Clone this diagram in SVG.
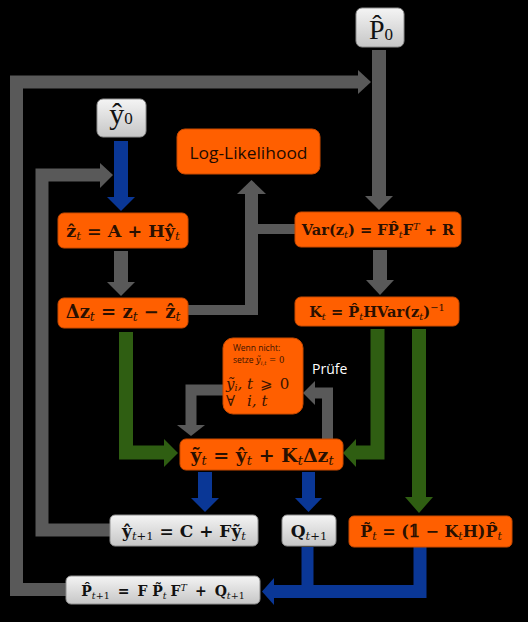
<svg xmlns="http://www.w3.org/2000/svg" width="528" height="622" viewBox="0 0 528 622">
<defs>
<linearGradient id="gg" x1="0" y1="0" x2="0" y2="1">
<stop offset="0" stop-color="#f4f4f4"/>
<stop offset="1" stop-color="#c6c6c6"/>
</linearGradient>
<style>
.ob{fill:#ff5f00;stroke:#c94a00;stroke-width:1}
.gb{fill:url(#gg);stroke:#8f8f8f;stroke-width:1}
.m{font-family:"DejaVu Serif","Liberation Serif",serif;font-weight:bold;fill:#2a1000;text-anchor:middle}
.mk{fill:#111}
.big{font-family:"Liberation Serif","DejaVu Serif",serif;font-weight:normal;fill:#111;text-anchor:middle}
.s{font-style:italic;font-weight:normal;font-size:68%}
.su{font-weight:normal;font-size:68%}
.cg{stroke:#595959;fill:none}
.hg{fill:#595959}
.cb{stroke:#0a3796;fill:none}
.hb{fill:#0a3796}
.cn{stroke:#2f5e12;fill:none}
.hn{fill:#2f5e12}
.sans{font-family:"Open Sans","Noto Sans","DejaVu Sans",sans-serif}
.w{font-family:"DejaVu Serif",serif;fill:#3a1400}
</style>
</defs>
<rect width="528" height="622" fill="#000"/>

<g id="connectors">
<path class="cg" stroke-width="13" d="M66,589.5 H16.5 V82 H359"/>
<polygon class="hg" points="358,70 371,82 358,94"/>
<path class="cg" stroke-width="14" d="M379,50 V197"/>
<polygon class="hg" points="365,196 379,210 393,196"/>
<path class="cg" stroke-width="13" d="M110,530 H42 V175 H101"/>
<polygon class="hg" points="100,163 113,175 100,188"/>
<path class="cg" stroke-width="14" d="M121,251 V283"/>
<polygon class="hg" points="107,282 121,296 135,282"/>
<path class="cg" stroke-width="10" d="M188,310 H251"/>
<path class="cg" stroke-width="13" d="M251.5,315 V194"/>
<polygon class="hg" points="237,194 251.5,180 266,194"/>
<path class="cg" stroke-width="10" d="M295,229 H251"/>
<path class="cg" stroke-width="14" d="M380,250 V281"/>
<polygon class="hg" points="366,280 380,295 394,280"/>
<path class="cg" stroke-width="11" d="M223,390 H191 V426"/>
<polygon class="hg" points="177,425 191,436 205,425"/>
<path class="cg" stroke-width="11" d="M327.5,439 V393 H314"/>
<polygon class="hg" points="315,381 303,393 315,405"/>
<path class="cn" stroke-width="14" d="M126,332 V452.5 H165"/>
<polygon class="hn" points="164,439 178,453 164,467"/>
<path class="cn" stroke-width="14" d="M377.5,329 V452.5 H355"/>
<polygon class="hn" points="356,439 343,453 356,467"/>
<path class="cn" stroke-width="14" d="M419,329 V498"/>
<polygon class="hn" points="405,497 419,513 433,497"/>
<path class="cb" stroke-width="14" d="M121,141 V198"/>
<polygon class="hb" points="107,197 121,211 135,197"/>
<path class="cb" stroke-width="14" d="M205,472 V499"/>
<polygon class="hb" points="191,498 205,512 219,498"/>
<path class="cb" stroke-width="13" d="M308.5,472 V499"/>
<polygon class="hb" points="295,498 308.5,512 322,498"/>
<path class="cb" stroke-width="12" d="M307.5,547 V591"/>
<path class="cb" stroke-width="13" d="M420,547 V591.5 H273"/>
<polygon class="hb" points="274,578 262,591.5 274,605"/>
</g>

<g id="P0">
<rect class="gb" x="356" y="8" width="48" height="39" rx="6"/>
<text class="big" x="381" y="39" font-size="28">P̂<tspan font-size="17" dy="1">0</tspan></text>
</g>
<g id="y0">
<rect class="gb" x="97" y="99" width="49" height="38" rx="6"/>
<text class="big" x="121" y="124" font-size="30">ŷ<tspan font-size="17">0</tspan></text>
</g>
<g id="loglik">
<rect class="ob" x="177" y="129" width="143" height="45" rx="8"/>
<text class="sans" x="248.5" y="159" font-size="17" fill="#1e0a00" text-anchor="middle" textLength="118" lengthAdjust="spacingAndGlyphs">Log-Likelihood</text>
</g>
<g id="zhat">
<rect class="ob" x="58" y="213" width="130" height="35" rx="6"/>
<text class="m" x="123" y="237" font-size="17.5">ẑ<tspan class="s" dy="3">t</tspan><tspan dy="-3"> = A + Hŷ</tspan><tspan class="s" dy="3">t</tspan></text>
</g>
<g id="dz">
<rect class="ob" x="58" y="298" width="130" height="30" rx="6"/>
<text class="m" x="123" y="318" font-size="18">Δz<tspan class="s" dy="3">t</tspan><tspan dy="-3"> = z</tspan><tspan class="s" dy="3">t</tspan><tspan dy="-3"> − ẑ</tspan><tspan class="s" dy="3">t</tspan></text>
</g>
<g id="var">
<rect class="ob" x="295" y="212" width="166" height="35" rx="6"/>
<text class="m" x="378" y="235" font-size="14.6">Var(z<tspan class="s" dy="3">t</tspan><tspan dy="-3">) = FP̂</tspan><tspan class="s" dy="3">t</tspan><tspan dy="-3">F</tspan><tspan class="s" dy="-5">T</tspan><tspan dy="5"> + R</tspan></text>
</g>
<g id="kalman">
<rect class="ob" x="295" y="297" width="164" height="29" rx="6"/>
<text class="m" x="377" y="317" font-size="14.6">K<tspan class="s" dy="3">t</tspan><tspan dy="-3"> = P̂</tspan><tspan class="s" dy="3">t</tspan><tspan dy="-3">HVar(z</tspan><tspan class="s" dy="3">t</tspan><tspan dy="-3">)</tspan><tspan class="su" dy="-6">−1</tspan></text>
</g>
<g id="check">
<rect class="ob" x="223" y="338" width="80" height="76" rx="10"/>
<text class="sans" x="233" y="351" font-size="8.5" fill="#3a1400">Wenn nicht:</text>
<text class="sans" x="233" y="363" font-size="8.5" fill="#3a1400">setze <tspan class="w" font-style="italic">ỹ</tspan><tspan class="w" font-style="italic" font-size="5.5" dy="2">i,t</tspan><tspan class="w" dy="-2"> = 0</tspan></text>
<text class="w" x="226" y="389" font-size="15" font-style="italic">ỹ<tspan font-size="9.5" dy="2">i</tspan><tspan dy="-2">, t</tspan><tspan font-style="normal" font-family="DejaVu Sans" dx="7">⩾</tspan><tspan font-style="normal" dx="7">0</tspan></text>
<text class="w" x="226" y="406" font-size="15">∀<tspan font-style="italic" dx="12">i, t</tspan></text>
</g>
<text class="sans" x="312" y="374" font-size="14" fill="#fff">Prüfe</text>
<g id="ytilde">
<rect class="ob" x="180" y="439" width="163" height="31" rx="6"/>
<text class="m" x="262" y="462" font-size="19">ỹ<tspan class="s" dy="3">t</tspan><tspan dy="-3"> = ŷ</tspan><tspan class="s" dy="3">t</tspan><tspan dy="-3"> + K</tspan><tspan class="s" dy="3">t</tspan><tspan dy="-3">Δz</tspan><tspan class="s" dy="3">t</tspan></text>
</g>
<g id="ynext">
<rect class="gb" x="110" y="515" width="148" height="31" rx="5"/>
<text class="m mk" x="184" y="537" font-size="17">ŷ<tspan class="s" dy="3">t</tspan><tspan class="su">+1</tspan><tspan dy="-3"> = C + Fỹ</tspan><tspan class="s" dy="3">t</tspan></text>
</g>
<g id="qnext">
<rect class="gb" x="282" y="515" width="54" height="31" rx="5"/>
<text class="m mk" x="309" y="537" font-size="17">Q<tspan class="s" dy="3">t</tspan><tspan class="su">+1</tspan></text>
</g>
<g id="ptilde">
<rect class="ob" x="349" y="516" width="163" height="31" rx="5"/>
<text class="m" x="431" y="537" font-size="16">P̃<tspan class="s" dy="3">t</tspan><tspan dy="-3"> = (𝟙 − K</tspan><tspan class="s" dy="3">t</tspan><tspan dy="-3">H)P̂</tspan><tspan class="s" dy="3">t</tspan></text>
</g>
<g id="pnext">
<rect class="gb" x="66" y="576" width="194" height="28" rx="5"/>
<text class="m mk" x="163" y="596" font-size="14">P̂<tspan class="s" dy="3">t</tspan><tspan class="su">+1</tspan><tspan dy="-3" dx="8">=</tspan><tspan dx="8">F P̃</tspan><tspan class="s" dy="3">t</tspan><tspan dy="-3" dx="4">F</tspan><tspan class="s" dy="-5">T</tspan><tspan dy="5" dx="8">+</tspan><tspan dx="8">Q</tspan><tspan class="s" dy="3">t</tspan><tspan class="su">+1</tspan></text>
</g>
</svg>
